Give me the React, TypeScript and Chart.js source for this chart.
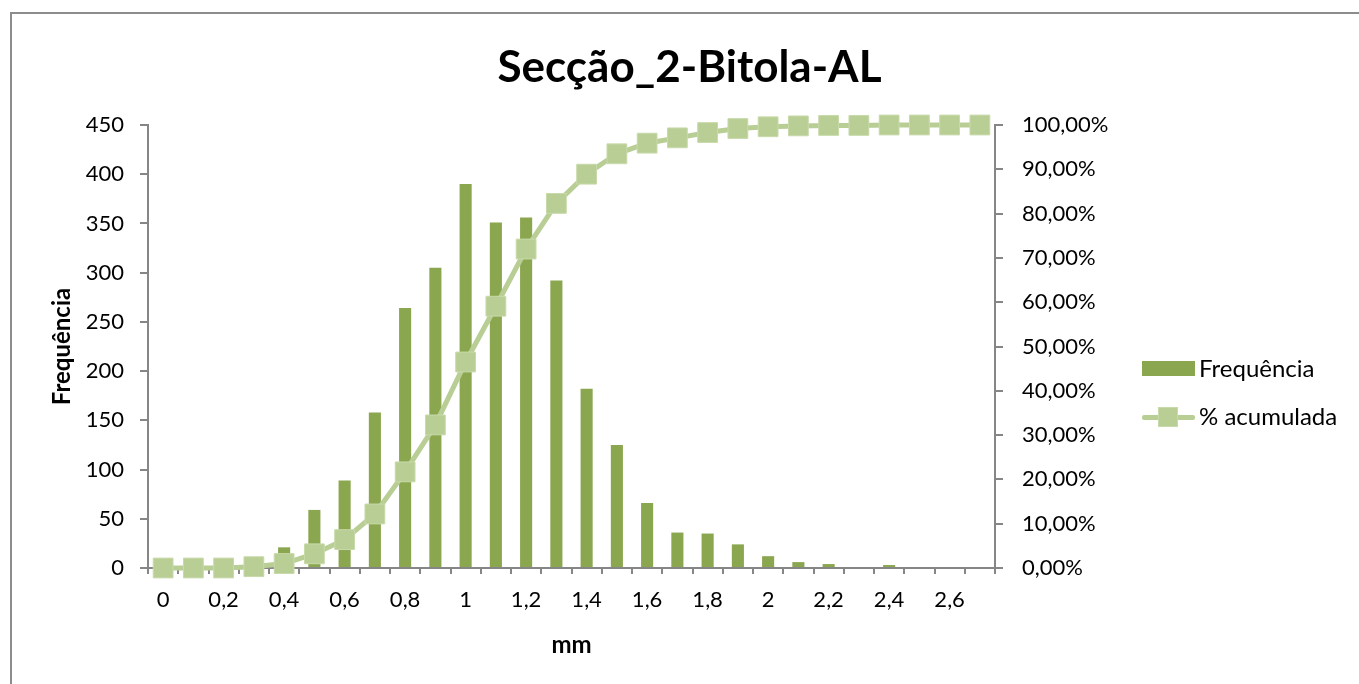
import React, { useEffect, useRef } from 'react';
import { Chart, registerables } from 'chart.js';

Chart.register(...registerables);

const categories = ['0', '0,1', '0,2', '0,3', '0,4', '0,5', '0,6', '0,7', '0,8', '0,9', '1', '1,1', '1,2', '1,3', '1,4', '1,5', '1,6', '1,7', '1,8', '1,9', '2', '2,1', '2,2', '2,3', '2,4', '2,5', '2,6', '2,7'];
const frequencia = [0, 0, 0, 0, 21, 59, 89, 158, 264, 305, 390, 351, 356, 292, 182, 125, 66, 36, 35, 24, 12, 6, 4, 1, 3, 0, 1, 0];
const acumulada = [0, 0, 0, 0.3, 1.0, 3.2, 6.4, 12.2, 21.7, 32.3, 46.5, 59.1, 72.0, 82.3, 88.9, 93.5, 95.9, 97.1, 98.3, 99.2, 99.6, 99.8, 99.9, 99.9, 100, 100, 100, 100];

const FONT = 'Lato, "Open Sans", sans-serif';
const AXIS = '#868686';
const BAR = '#8AA64F';
const LINE = '#B9CE95';

export default function App() {
  const ref = useRef<HTMLCanvasElement>(null);

  useEffect(() => {
    if (!ref.current) return;
    const chart = new Chart(ref.current, {
      type: 'bar',
      data: {
        labels: categories,
        datasets: [
          {
            type: 'line',
            label: '% acumulada',
            data: acumulada,
            yAxisID: 'y1',
            borderColor: LINE,
            borderWidth: 5,
            backgroundColor: LINE,
            pointStyle: 'rect',
            pointRadius: 14,
            pointBackgroundColor: LINE,
            pointBorderColor: '#C8DAAA',
            pointBorderWidth: 1,
            tension: 0,
            clip: false,
            order: 0,
          } as any,
          {
            type: 'bar',
            label: 'Frequência',
            data: frequencia,
            yAxisID: 'y',
            backgroundColor: BAR,
            borderWidth: 0,
            categoryPercentage: 1,
            barPercentage: 0.4,
            order: 1,
          },
        ],
      },
      options: {
        responsive: false,
        animation: false,
        devicePixelRatio: 1,
        layout: { padding: { left: 20, right: 0, top: 0, bottom: 0 } },
        plugins: {
          legend: { display: false },
          tooltip: { enabled: false },
          title: {
            display: true,
            text: 'Secção_2-Bitola-AL',
            color: '#000',
            font: { family: FONT, size: 44, weight: 'bold', lineHeight: 1.2 },
            padding: { top: 41.6, bottom: 30.6 },
          },
        },
        scales: {
          x: {
            type: 'category',
            offset: true,
            grid: { offset: true, drawOnChartArea: false, drawTicks: true, tickLength: 6, color: AXIS, lineWidth: 2 },
            border: { display: true, color: AXIS, width: 2 },
            ticks: {
              autoSkip: false,
              maxRotation: 0,
              minRotation: 0,
              padding: 13,
              color: '#000',
              font: { family: FONT, size: 22, lineHeight: 1.2 },
              callback: (_v: any, i: number) => (i % 2 === 0 ? categories[i] : ''),
            },
            title: {
              display: true,
              text: 'mm',
              color: '#000',
              font: { family: FONT, size: 24, weight: 'bold', lineHeight: 1.2 },
              padding: { top: 0, bottom: 24.6 },
            },
            afterFit: (s: any) => { s.height = 116; },
          },
          y: {
            type: 'linear',
            position: 'left',
            min: 0,
            max: 450,
            grid: { drawOnChartArea: false, drawTicks: true, tickLength: 8, color: AXIS, lineWidth: 2 },
            border: { display: true, color: AXIS, width: 2 },
            ticks: { stepSize: 50, padding: 16, color: '#000', font: { family: FONT, size: 22 } },
            title: {
              display: true,
              text: 'Frequência',
              color: '#000',
              font: { family: FONT, size: 24, weight: 'bold', lineHeight: 1.2 },
              padding: { top: 27.6, bottom: 0 },
            },
            afterFit: (s: any) => { s.width = 128; },
          },
          y1: {
            type: 'linear',
            position: 'right',
            min: 0,
            max: 100,
            grid: { drawOnChartArea: false, drawTicks: true, tickLength: 8, color: AXIS, lineWidth: 2 },
            border: { display: true, color: AXIS, width: 2 },
            ticks: {
              stepSize: 10,
              padding: 19,
              color: '#000',
              font: { family: FONT, size: 22 },
              callback: (v: any) => Number(v).toFixed(2).replace('.', ',') + '%',
            },
            afterFit: (s: any) => { s.width = 364; },
          },
        },
      } as any,
    });
    return () => chart.destroy();
  }, []);

  const legendText: React.CSSProperties = {
    position: 'absolute',
    left: 1199,
    fontFamily: FONT,
    fontSize: 24,
    color: '#000',
    lineHeight: '28px',
    whiteSpace: 'nowrap',
  };

  return (
    <div style={{ position: 'fixed', left: 0, top: 0, width: 1359, height: 684, background: '#fff', overflow: 'hidden' }}>
      <div style={{ position: 'absolute', left: 10, top: 12, width: 1400, height: 700, borderTop: '2px solid #8c8c8c', borderLeft: '2px solid #8c8c8c', boxSizing: 'border-box' }} />
      <canvas ref={ref} width={1359} height={684} style={{ position: 'absolute', left: 0, top: 0, width: 1359, height: 684 }} />
      <div style={{ position: 'absolute', left: 1142, top: 361, width: 53, height: 15, background: BAR }} />
      <div style={{ ...legendText, top: 354 }}>Frequência</div>
      <div style={{ position: 'absolute', left: 1142, top: 415, width: 53, height: 5, background: LINE, borderRadius: 2 }} />
      <div style={{ position: 'absolute', left: 1158, top: 407, width: 20, height: 20, background: LINE, border: '1px solid #C8DAAA', boxSizing: 'border-box' }} />
      <div style={{ ...legendText, top: 402 }}>% acumulada</div>
    </div>
  );
}
